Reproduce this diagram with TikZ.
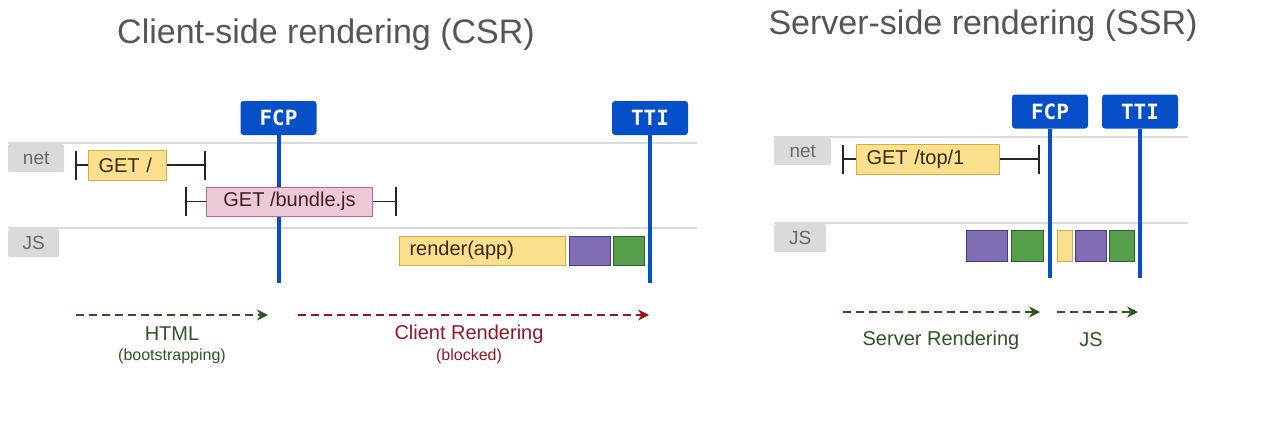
\documentclass[tikz,border=0pt]{standalone}
\usepackage{fontspec}
\setmainfont{Liberation Sans}
\setmonofont{DejaVu Sans Mono}
\usetikzlibrary{arrows.meta}

\definecolor{flagblue}{RGB}{5,80,200}
\definecolor{titlegray}{RGB}{85,85,85}
\definecolor{rowgray}{RGB}{218,218,218}
\definecolor{rowtext}{RGB}{105,105,105}
\definecolor{yelfill}{RGB}{253,224,142}
\definecolor{yelline}{RGB}{222,170,60}
\definecolor{yeltext}{RGB}{55,42,20}
\definecolor{pinkfill}{RGB}{235,202,216}
\definecolor{pinkline}{RGB}{196,100,140}
\definecolor{pinktext}{RGB}{70,25,45}
\definecolor{purpfill}{RGB}{128,110,180}
\definecolor{purpline}{RGB}{75,55,135}
\definecolor{grefill}{RGB}{86,158,74}
\definecolor{greline}{RGB}{40,100,40}
\definecolor{darkgreen}{RGB}{45,85,35}
\definecolor{darkred}{RGB}{150,20,35}

\begin{document}
\begin{tikzpicture}[x=1pt, y=-1pt,
  title/.style={text=titlegray, font=\fontsize{34}{40}\selectfont},
  flag/.style={fill=flagblue, rounded corners=3pt, minimum width=76pt, minimum height=34pt,
    inner sep=0pt, text=white, font=\ttfamily\bfseries\fontsize{21}{24}\selectfont},
  mile/.style={draw=flagblue, line width=4pt},
  rowline/.style={draw=rowgray, line width=2pt},
  rowlabel/.style={fill=rowgray, text=rowtext, rounded corners=2pt, anchor=north west,
    inner sep=0pt, font=\fontsize{19}{22}\selectfont},
  block/.style={draw, line width=1pt, anchor=west, inner sep=0pt, font=\fontsize{20}{24}\selectfont},
  leftbox/.style={block, inner xsep=10pt, text width=#1pt-20pt, align=left},
  spanstart/.style={draw=black!85, line width=1.3pt, {Bar[width=29pt, line width=1.6pt]}-},
  spanend/.style={draw=black!85, line width=1.3pt, -{Bar[width=29pt, line width=1.6pt]}},
  phase/.style={line width=2pt, dash pattern=on 8pt off 5pt, -{Stealth[length=11pt, width=11pt]}},
  phaselabel/.style={font=\fontsize{20}{24}\selectfont},
  phasenote/.style={font=\fontsize{16}{18}\selectfont}
]
\useasboundingbox (0,0) rectangle (1287,424);

 % client-side rendering
 \node[title] (csrtitle) at (326,35) {Client-side rendering (CSR)};

 \coordinate (net1a) at (8,143);  \coordinate (net1b) at (697,143);
 \coordinate (js1a) at (8,228);   \coordinate (js1b) at (697,228);
 \draw[rowline] (net1a) -- (net1b);
 \draw[rowline] (js1a) -- (js1b);
 \node[rowlabel, minimum width=56pt, minimum height=28pt] (net1) at (8,144) {net};
 \node[rowlabel, minimum width=51pt, minimum height=28pt] (js1) at (8,229) {JS};

 \node[flag] (fcp1) at (278.5,118) {FCP};
 \node[flag] (tti1) at (650,118) {TTI};
 \coordinate (fcp1end) at (278.5,283);
 \coordinate (tti1end) at (650,283);
 \draw[mile] (fcp1.south) -- (fcp1end);
 \draw[mile] (tti1.south) -- (tti1end);

 \node[leftbox=78, fill=yelfill, draw=yelline, text=yeltext, minimum height=30pt] (get1) at (88,165) {GET /};
 \node[block, fill=pinkfill, draw=pinkline, text=pinktext, minimum width=166pt, minimum height=29pt] (bundle) at (206,201.5) {GET /bundle.js};
 \node[leftbox=166, fill=yelfill, draw=yelline, text=yeltext, minimum height=29pt] (render) at (399,250.5) {render(app)};

 \foreach \x/\w/\f/\d/\n in {569/41/purpfill/purpline/pu1, 613/31/grefill/greline/gr1} {
   \node[block, fill=\f, draw=\d, minimum width=\w pt, minimum height=29pt] (\n) at (\x,250.5) {};
 }

 % brackets
 \coordinate (get1s) at (75,165);     \coordinate (get1e) at (206,165);
 \coordinate (bundles) at (185,201.5); \coordinate (bundlee) at (397,201.5);
 \draw[spanstart] (get1s) -- (get1.west);
 \draw[spanend] (get1.east) -- (get1e);
 \draw[spanstart] (bundles) -- (bundle.west);
 \draw[spanend] (bundle.east) -- (bundlee);

 % phases
 \coordinate (html0) at (76,315);   \coordinate (html1) at (268,315);
 \coordinate (client0) at (298,315); \coordinate (client1) at (649,315);
 \draw[phase, darkgreen] (html0) -- (html1);
 \draw[phase, darkred] (client0) -- (client1);
 \node[phaselabel, text=darkgreen] (htmllabel) at (172,334) {HTML};
 \node[phasenote, text=darkgreen] (htmlnote) at (172,356) {(bootstrapping)};
 \node[phaselabel, text=darkred] (clientlabel) at (469,334) {Client Rendering};
 \node[phasenote, text=darkred] (clientnote) at (469,356) {(blocked)};

 % server-side rendering
 \node[title] (ssrtitle) at (983,26) {Server-side rendering (SSR)};

 \coordinate (net2a) at (774,137);  \coordinate (net2b) at (1188,137);
 \coordinate (js2a) at (774,223);   \coordinate (js2b) at (1188,223);
 \draw[rowline] (net2a) -- (net2b);
 \draw[rowline] (js2a) -- (js2b);
 \node[rowlabel, minimum width=57pt, minimum height=27pt] (net2) at (774,138) {net};
 \node[rowlabel, minimum width=52pt, minimum height=28pt] (js2) at (774,224) {JS};

 \node[flag] (fcp2) at (1050,111.5) {FCP};
 \node[flag] (tti2) at (1140,111.5) {TTI};
 \coordinate (fcp2end) at (1050,278);
 \coordinate (tti2end) at (1140,278);
 \draw[mile] (fcp2.south) -- (fcp2end);
 \draw[mile] (tti2.south) -- (tti2end);

 \node[leftbox=143, fill=yelfill, draw=yelline, text=yeltext, minimum height=30pt] (top1) at (856,159) {GET /top/1};
 \coordinate (top1s) at (842,159);  \coordinate (top1e) at (1040,159);
 \draw[spanstart] (top1s) -- (top1.west);
 \draw[spanend] (top1.east) -- (top1e);

 \foreach \x/\w/\f/\d/\n in {966/41/purpfill/purpline/pu2, 1011/32/grefill/greline/gr2,
     1057/15/yelfill/yelline/ye2, 1075/31/purpfill/purpline/pu3, 1109/25/grefill/greline/gr3} {
   \node[block, fill=\f, draw=\d, minimum width=\w pt, minimum height=31pt] (\n) at (\x,245.5) {};
 }

 \coordinate (server0) at (843,312); \coordinate (server1) at (1040,312);
 \coordinate (jsrun0) at (1057,312); \coordinate (jsrun1) at (1138,312);
 \draw[phase, darkgreen] (server0) -- (server1);
 \draw[phase, darkgreen] (jsrun0) -- (jsrun1);
 \node[phaselabel, text=darkgreen] (serverlabel) at (941,340) {Server Rendering};
 \node[phaselabel, text=darkgreen] (jslabel) at (1091,340) {JS};

\end{tikzpicture}
\end{document}
